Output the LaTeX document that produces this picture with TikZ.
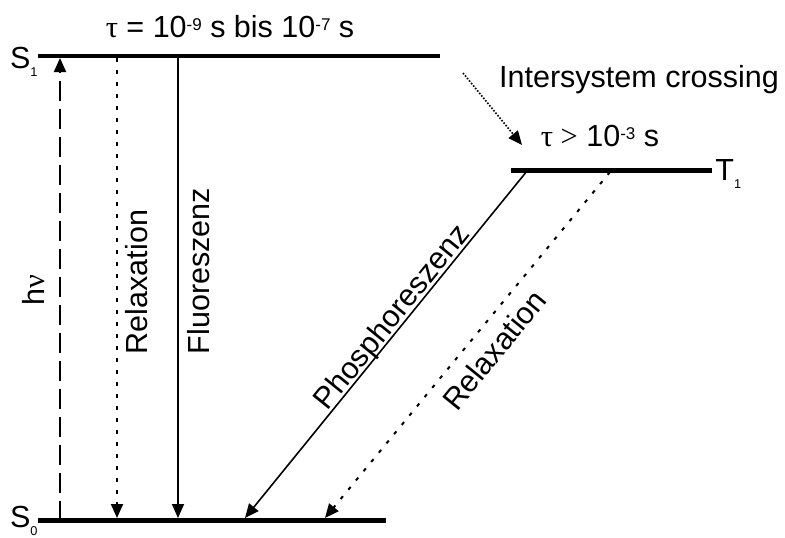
\documentclass[tikz,border=0pt]{standalone}
\usepackage{fontspec}
\setmainfont{Liberation Sans}
\newfontfamily\grk{Liberation Serif}
\usetikzlibrary{arrows.meta}
\newcommand{\hoch}[1]{\raisebox{3.3pt}{\fontsize{8.5}{9}\selectfont#1}}
\newcommand{\tief}[1]{\raisebox{-4pt}{\fontsize{6.4}{7}\selectfont#1}}

\begin{document}
\begin{tikzpicture}[x=0.5pt,y=-0.5pt,>={Triangle[length=7pt,width=6pt]},
  level/.style={line width=2.2pt},
  trans/.style={->,line width=0.8pt},
  dots/.style={trans,line width=1pt,dash pattern=on 1.8pt off 4.2pt},
  lbl/.style={font=\fontsize{15.25}{18}\selectfont,inner sep=0pt}]
  \useasboundingbox (0,0) rectangle (785,537);
  \coordinate (s1w) at (38,56);  \coordinate (s1e) at (440,56);
  \coordinate (s0w) at (38,520.5); \coordinate (s0e) at (386,520.5);
  \coordinate (t1w) at (511,170.5); \coordinate (t1e) at (712,170.5);
  \draw[level] (s1w) -- (s1e);
  \draw[level] (s0w) -- (s0e);
  \draw[level] (t1w) -- (t1e);
  \node[lbl,anchor=base east] (s1lbl) at (38,68) {S\tief{1}};
  \node[lbl,anchor=base east] (s0lbl) at (38,527) {S\tief{0}};
  \node[lbl,anchor=base west] (t1lbl) at (715,180) {T\tief{1}};
  \node[lbl,anchor=base] (tau1) at (230,37) {{\grk τ} = 10\hoch{-9} s bis 10\hoch{-7} s};
  \node[lbl,anchor=base] (tau3) at (600,146) {{\grk τ >} 10\hoch{-3} s};
  \node[lbl,anchor=base] (isc) at (639,87) {Intersystem crossing};
  \coordinate (hv0) at (60,520.5);  \coordinate (hv1) at (60,58);
  \coordinate (rx0) at (117,58);    \coordinate (rx1) at (117,518);
  \coordinate (fl0) at (178,58);    \coordinate (fl1) at (178,518);
  \coordinate (ph0) at (527,171);   \coordinate (ph1) at (245,518);
  \coordinate (rd0) at (610,172);   \coordinate (rd1) at (325,518);
  \coordinate (is0) at (463,73);    \coordinate (is1) at (522,145);
  \draw[trans,line width=1pt,dash pattern=on 10pt off 4pt] (hv0) -- (hv1);
  \draw[dots] (rx0) -- (rx1);
  \draw[trans] (fl0) -- (fl1);
  \draw[trans] (ph0) -- (ph1);
  \draw[dots] (rd0) -- (rd1);
  \draw[trans,dash pattern=on 0.8pt off 0.8pt] (is0) -- (is1);
  \node[lbl,rotate=90] (hvlbl) at (34,290) {h{\grk ν}};
  \node[lbl,rotate=90] (rxlbl) at (137,282) {Relaxation};
  \node[lbl,rotate=90] (fllbl) at (199,271) {Fluoreszenz};
  \node[lbl,rotate=51] (phlbl) at (393,318) {Phosphoreszenz};
  \node[lbl,rotate=51] (rdlbl) at (494,350) {Relaxation};
\end{tikzpicture}
\end{document}
